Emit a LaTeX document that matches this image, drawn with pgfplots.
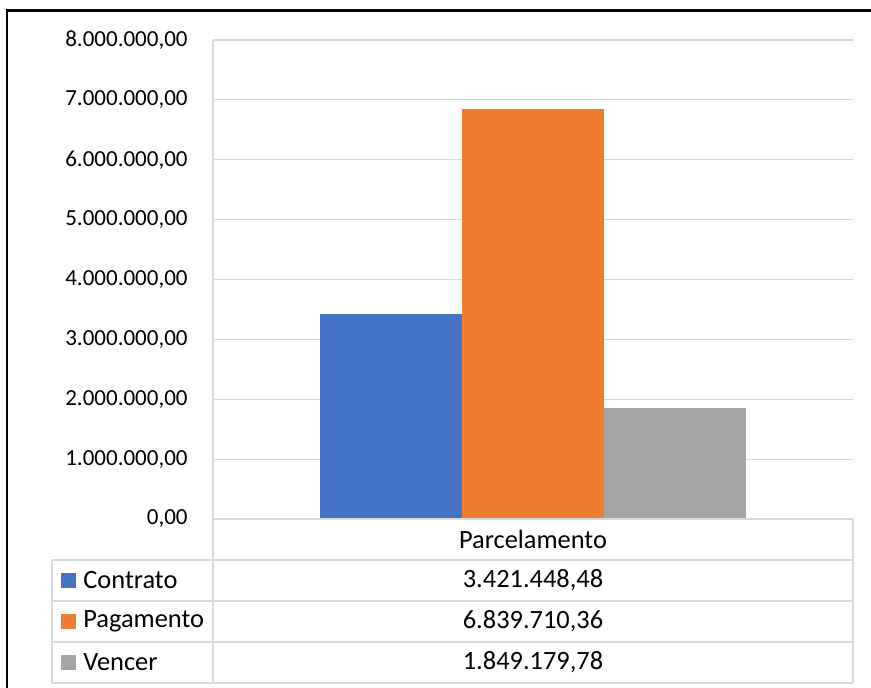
\documentclass[border=0pt]{standalone}
\usepackage{pgfplots}
\pgfplotsset{compat=1.18}
\usepackage{fontspec}
\setmainfont{Carlito}
\definecolor{cblue}{HTML}{4472C4}
\definecolor{corange}{HTML}{ED7D31}
\definecolor{cgray}{HTML}{A5A5A5}
\definecolor{gridgray}{HTML}{D9D9D9}
\begin{document}
\begin{tikzpicture}[font=\fontsize{13.2}{15}\selectfont]
\begin{axis}[
  at={(0pt,0pt)}, anchor=south west,
  width=320pt, height=239.5pt, scale only axis,
  xmin=-0.5, xmax=0.5, ymin=0, ymax=8000000,
  xtick=\empty,
  ytick={0,1000000,2000000,3000000,4000000,5000000,6000000,7000000,8000000},
  yticklabels={{0,00},{1.000.000,00},{2.000.000,00},{3.000.000,00},{4.000.000,00},{5.000.000,00},{6.000.000,00},{7.000.000,00},{8.000.000,00}},
  scaled y ticks=false,
  yticklabel style={anchor=east, inner sep=0pt, xshift=-12.5pt, text=black, font=\fontsize{11.5}{14}\selectfont},
  major tick length=0pt,
  ymajorgrids, grid style={color=gridgray, line width=0.6pt},
  axis line style={draw=none},
  ybar=0pt, bar width=0.2223,
]
\addplot[fill=cblue, draw=none] coordinates {(0,3421448.48)};
\addplot[fill=corange, draw=none] coordinates {(0,6839710.36)};
\addplot[fill=cgray, draw=none] coordinates {(0,1849179.78)};
\end{axis}
% data table
\begin{scope}[draw=gridgray, line width=0.6pt]
\draw (0pt,0pt) -- (320pt,0pt);
\draw (-80.5pt,-20.5pt) -- (320pt,-20.5pt);
\draw (-80.5pt,-41pt) -- (320pt,-41pt);
\draw (-80.5pt,-61.5pt) -- (320pt,-61.5pt);
\draw (-80.5pt,-82pt) -- (320pt,-82pt);
\draw (-80.5pt,-20.5pt) -- (-80.5pt,-82pt);
\draw (0pt,239.5pt) -- (0pt,-82pt);
\draw (320pt,0pt) -- (320pt,-82pt);
\end{scope}
\node at (160pt,-10.25pt) {Parcelamento};
\node at (160pt,-30.75pt) {3.421.448,48};
\node at (160pt,-51.25pt) {6.839.710,36};
\node at (160pt,-71.75pt) {1.849.179,78};
\fill[cblue] (-76pt,-34.5pt) rectangle (-68.5pt,-27pt);
\fill[corange] (-76pt,-55pt) rectangle (-68.5pt,-47.5pt);
\fill[cgray] (-76pt,-75.5pt) rectangle (-68.5pt,-68pt);
\node[anchor=west, inner sep=0pt] at (-65pt,-30.75pt) {Contrato};
\node[anchor=west, inner sep=0pt] at (-65pt,-51.25pt) {Pagamento};
\node[anchor=west, inner sep=0pt] at (-65pt,-71.75pt) {Vencer};
% outer frame (top and left visible)
\draw[black, line width=1.1pt] (-103pt,-84.5pt) -- (-103pt,254.25pt) -- (329pt,254.25pt);
\pgfresetboundingbox
\path[use as bounding box] (-106.5pt,-84.5pt) rectangle (329pt,259.5pt);
\end{tikzpicture}
\end{document}
